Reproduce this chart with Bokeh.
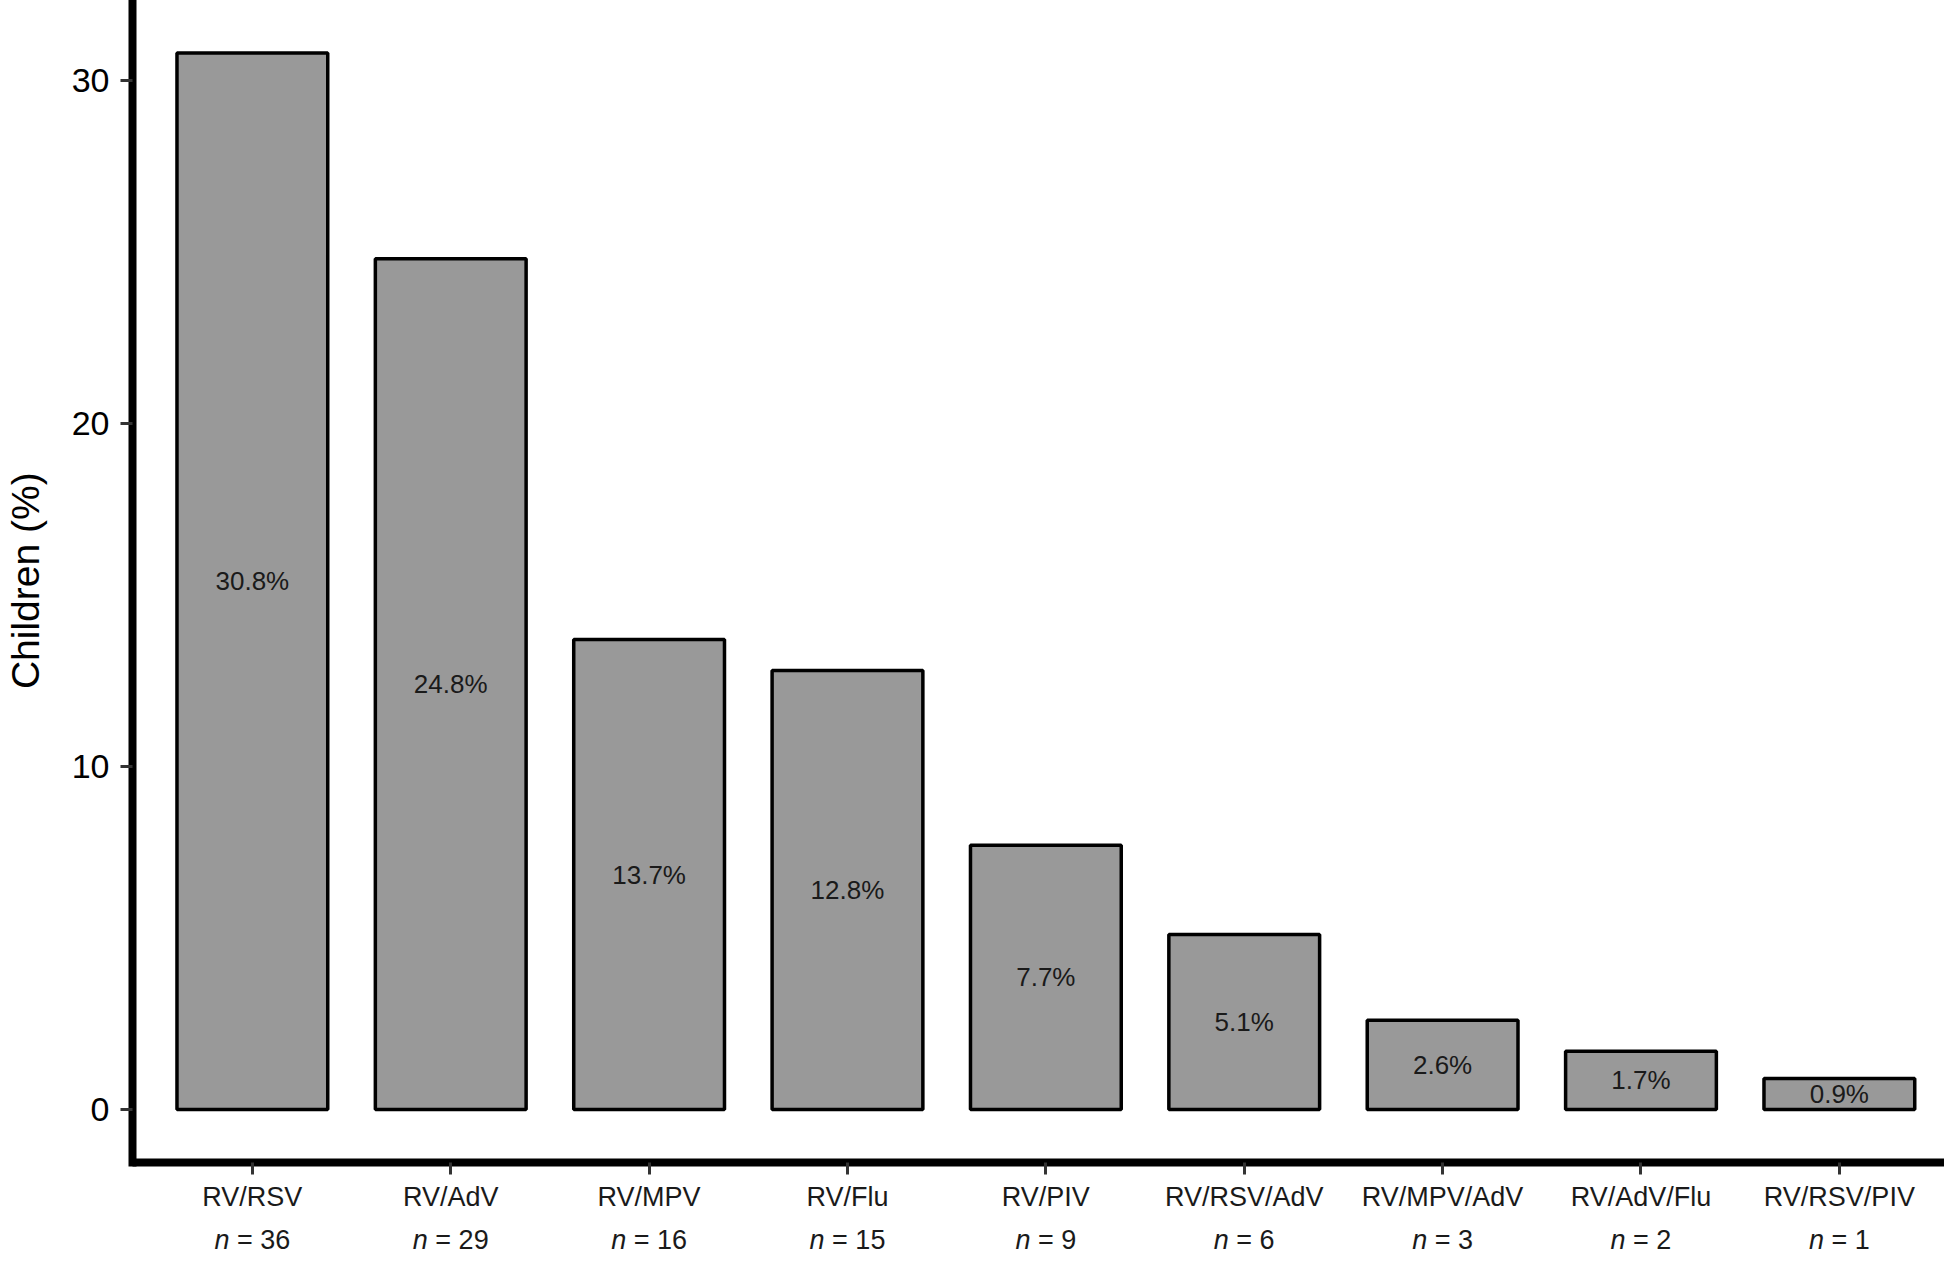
from bokeh.plotting import figure
from bokeh.models import Range1d, FixedTicker, ColumnDataSource
from bokeh.embed import file_html
from bokeh.resources import INLINE

# ---- data ----
categories = ["RV/RSV", "RV/AdV", "RV/MPV", "RV/Flu", "RV/PIV",
              "RV/RSV/AdV", "RV/MPV/AdV", "RV/AdV/Flu", "RV/RSV/PIV"]
percent = [30.8, 24.8, 13.7, 12.8, 7.7, 5.1, 2.6, 1.7, 0.9]
counts = [36, 29, 16, 15, 9, 6, 3, 2, 1]
y_ticks = [0, 10, 20, 30]
y_title = "Children (%)"

FONT = "Liberation Sans"
xs = list(range(1, len(categories) + 1))
pct_labels = [f"{v}%" for v in percent]

Y_TOP = 32.33
Y_AXIS = -1.545
Y_BOTTOM = -4.344
N_LABEL_Y = -3.80

p = figure(width=1944, height=1258,
           x_range=Range1d(0.3958, 9.530), y_range=Range1d(Y_BOTTOM, Y_TOP),
           output_backend="svg", toolbar_location=None,
           min_border_left=130, min_border_right=0,
           min_border_top=0, min_border_bottom=0)
p.outline_line_color = None
p.grid.visible = False
p.background_fill_color = "white"
p.border_fill_color = "white"

p.vbar(x=xs, top=percent, bottom=0, width=0.76,
       fill_color="#999999", line_color="black", line_width=3.5)

p.text(x=xs, y=[v / 2 for v in percent], text=pct_labels,
       text_align="center", text_baseline="middle",
       text_font_size="26px", text_color="#1a1a1a",
       text_font={"value": FONT})

for ax in (p.xaxis[0], p.yaxis[0]):
    ax.axis_line_color = "black"
    ax.axis_line_width = 8
    ax.axis_line_cap = "square"
    ax.major_tick_line_color = "#333333"
    ax.major_tick_line_width = 3
    ax.major_tick_out = 12
    ax.major_tick_in = 0
    ax.minor_tick_line_color = None
    ax.major_label_text_font = FONT

xa = p.xaxis[0]
xa.fixed_location = Y_AXIS
xa.ticker = FixedTicker(ticks=xs)
xa.major_label_overrides = {i: c for i, c in zip(xs, categories)}
xa.major_label_text_font_size = "27px"
xa.major_label_text_color = "#1a1a1a"
xa.major_label_standoff = 8

ya = p.yaxis[0]
ya.bounds = (Y_AXIS, Y_TOP)
ya.ticker = FixedTicker(ticks=y_ticks)
ya.major_label_text_font_size = "34px"
ya.major_label_text_color = "black"
ya.major_label_standoff = 11
# leading no-break spaces keep the title centred on the axis span
ya.axis_label = "\u00a0" * 9 + y_title
ya.axis_label_text_font = FONT
ya.axis_label_text_font_size = "39px"
ya.axis_label_text_font_style = "normal"
ya.axis_label_text_color = "black"
ya.axis_label_standoff = 22

# "n = xx" second line under each category (italic n, upright "= xx")
s = 27
nx, ny, ntext, nstyle, nalign, noff = [], [], [], [], [], []
for x, c in zip(xs, counts):
    k = len(str(c))
    w_n = 0.556 * s
    w_sp = 0.278 * s
    w_rest = (0.584 + 0.278 + 0.556 * k) * s
    off = -(w_n + w_sp + w_rest) / 2 + w_n
    nx += [x, x]
    ny += [N_LABEL_Y, N_LABEL_Y]
    ntext += ["n", f"= {c}"]
    nstyle += ["italic", "normal"]
    nalign += ["right", "left"]
    noff += [off, off + w_sp]
nsrc = ColumnDataSource(dict(x=nx, y=ny, text=ntext, style=nstyle,
                             align=nalign, off=noff))
p.text(x="x", y="y", text="text", source=nsrc,
       text_font_style="style", text_align="align", x_offset="off",
       text_baseline="alphabetic", text_font={"value": FONT},
       text_font_size=f"{s}px", text_color="#1a1a1a")

open("out.html", "w").write(file_html(p, INLINE))
